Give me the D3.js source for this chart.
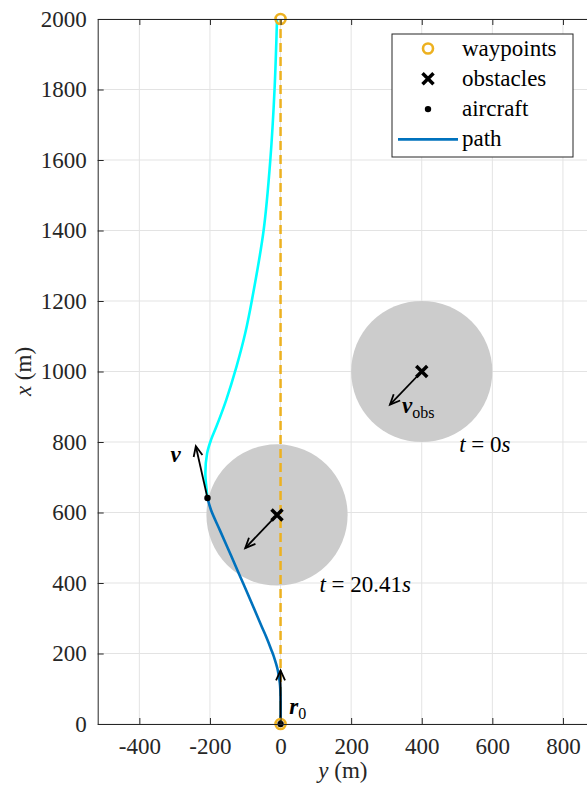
<!DOCTYPE html>
<html>
<head>
<meta charset="utf-8">
<script src="https://cdn.jsdelivr.net/npm/d3@7"></script>
<style>
  body { margin: 0; background: #fff; }
  svg text { font-family: "Liberation Serif", "DejaVu Serif", serif; fill: #262626; }
</style>
</head>
<body>
<div id="container"></div>
<script>
// data: [y (m), x (m)] — horizontal is y, vertical is x
var waypoints = [[0, 0], [0, 2000]];
var obstacles = [[400, 1000], [-10, 593]];
var obstacleRadius = 200;
var obstacleVel = [-90, -94];
var aircraft = [-207, 641];
var aircraftVel = [-33, 147];
var startPos = [0, 0];
var startVel = [0, 152];
var pathFlown = [[0, 0], [0, 80], [-2, 116], [-8, 153], [-19, 191], [-26, 210], [-41, 248], [-55, 280],
                 [-73, 323], [-106, 399], [-139, 475], [-172, 550], [-197, 607], [-207, 641]];
var pathPlanned = [[-207, 641], [-209, 660], [-213, 712], [-208, 768], [-197, 806], [-182, 843],
                   [-154, 919], [-125, 1013], [-100, 1109], [-81, 1203], [-48, 1400], [-29, 1600],
                   [-17, 1800], [-10, 2000]];
var xTicks = [-400, -200, 0, 200, 400, 600, 800];
var yTicks = [0, 200, 400, 600, 800, 1000, 1200, 1400, 1600, 1800, 2000];
var legendItems = ['waypoints', 'obstacles', 'aircraft', 'path'];

(function(){
var width = 587, height = 790;
var pLeft = 97.7, pTop = 19, pRight = 588, pBottom = 724;
var fontSize = 23;

var svg = d3.select('#container')
    .append('svg')
    .attr('width', width)
    .attr('height', height);

var xs = d3.scaleLinear().domain([-518, 871]).range([pLeft, pRight]);
var ys = d3.scaleLinear().domain([0, 2000]).range([pBottom, pTop]);

svg.append('clipPath').attr('id', 'plotclip')
    .append('rect')
    .attr('x', pLeft).attr('y', pTop)
    .attr('width', pRight - pLeft).attr('height', pBottom - pTop);

// grid
var grid = svg.append('g');
xTicks.forEach(function(t){
    grid.append('line')
        .attr('x1', xs(t)).attr('x2', xs(t))
        .attr('y1', pTop).attr('y2', pBottom)
        .attr('stroke', '#e3e3e3').attr('stroke-width', 1);
});
yTicks.forEach(function(t){
    grid.append('line')
        .attr('x1', pLeft).attr('x2', pRight)
        .attr('y1', ys(t)).attr('y2', ys(t))
        .attr('stroke', '#e3e3e3').attr('stroke-width', 1);
});

var plot = svg.append('g').attr('clip-path', 'url(#plotclip)');

// obstacle areas
var k = (xs(1) - xs(0));
obstacles.forEach(function(o){
    plot.append('circle')
        .attr('cx', xs(o[0])).attr('cy', ys(o[1]))
        .attr('r', obstacleRadius * k)
        .attr('fill', '#cccccc');
});

// straight line between waypoints
plot.append('line')
    .attr('x1', xs(waypoints[0][0])).attr('y1', ys(waypoints[0][1]))
    .attr('x2', xs(waypoints[1][0])).attr('y2', ys(waypoints[1][1]))
    .attr('stroke', '#EDB120').attr('stroke-width', 2.5)
    .attr('stroke-dasharray', '9,5');

var line = d3.line()
    .x(function(d){ return xs(d[0]); })
    .y(function(d){ return ys(d[1]); })
    .curve(d3.curveCatmullRom.alpha(0.5));

plot.append('path')
    .attr('d', line(pathPlanned))
    .attr('fill', 'none')
    .attr('stroke', '#00FFFF')
    .attr('stroke-width', 2.6);
plot.append('path')
    .attr('d', line(pathFlown))
    .attr('fill', 'none')
    .attr('stroke', '#0072BD')
    .attr('stroke-width', 2.6);

function arrow(g, p, v){
    var x1 = xs(p[0]), y1 = ys(p[1]);
    var x2 = xs(p[0] + v[0]), y2 = ys(p[1] + v[1]);
    var a = Math.atan2(y2 - y1, x2 - x1);
    var hl = 11, ha = 0.42;
    g.append('line')
        .attr('x1', x1).attr('y1', y1).attr('x2', x2).attr('y2', y2)
        .attr('stroke', '#000').attr('stroke-width', 1.8);
    g.append('path')
        .attr('d', 'M' + (x2 - hl*Math.cos(a - ha)) + ',' + (y2 - hl*Math.sin(a - ha)) +
                   'L' + x2 + ',' + y2 +
                   'L' + (x2 - hl*Math.cos(a + ha)) + ',' + (y2 - hl*Math.sin(a + ha)))
        .attr('fill', 'none')
        .attr('stroke', '#000').attr('stroke-width', 1.8)
        .attr('stroke-linejoin', 'miter');
}

obstacles.forEach(function(o){ arrow(plot, o, obstacleVel); });
arrow(plot, aircraft, aircraftVel);
arrow(plot, startPos, startVel);

function cross(g, cx, cy, s){
    g.append('path')
        .attr('d', 'M' + (cx - s) + ',' + (cy - s) + 'L' + (cx + s) + ',' + (cy + s) +
                   'M' + (cx - s) + ',' + (cy + s) + 'L' + (cx + s) + ',' + (cy - s))
        .attr('stroke', '#000').attr('stroke-width', 3.5).attr('fill', 'none');
}
obstacles.forEach(function(o){ cross(plot, xs(o[0]), ys(o[1]), 5.5); });

// waypoints
waypoints.forEach(function(w){
    svg.append('circle')
        .attr('cx', xs(w[0])).attr('cy', ys(w[1]))
        .attr('r', 5)
        .attr('fill', 'none')
        .attr('stroke', '#EDB120').attr('stroke-width', 2.6);
});
svg.append('circle').attr('cx', xs(startPos[0])).attr('cy', ys(startPos[1])).attr('r', 3.2).attr('fill', '#000');
svg.append('circle').attr('cx', xs(aircraft[0])).attr('cy', ys(aircraft[1])).attr('r', 3.2).attr('fill', '#000');

// annotations
function mathText(px, py, parts){
    var t = svg.append('text')
        .attr('x', px).attr('y', py)
        .attr('font-size', fontSize)
        .style('fill', '#000');
    parts.forEach(function(p){
        var s = t.append('tspan').text(p.s);
        if(p.i) s.attr('font-style', 'italic');
        if(p.b) s.attr('font-weight', 'bold');
        if(p.sub){ s.attr('font-size', 16).attr('dy', 5); }
    });
    return t;
}
mathText(xs(506), ys(772), [{s: 't', i: true}, {s: ' = 0'}, {s: 's', i: true}]);
mathText(xs(110), ys(375), [{s: 't', i: true}, {s: ' = 20.41'}, {s: 's', i: true}]);
mathText(xs(-312), ys(743), [{s: 'v', i: true, b: true}]);
mathText(xs(344), ys(882), [{s: 'v', i: true, b: true}, {s: 'obs', sub: true}]);
mathText(xs(25), ys(28), [{s: 'r', i: true, b: true}, {s: '0', sub: true}]);

// axes
var fmt = function(d){ return String(d); };
var xAxis = svg.append('g')
    .attr('transform', 'translate(0,' + pBottom + ')')
    .call(d3.axisBottom(xs).tickValues(xTicks).tickFormat(fmt).tickSizeInner(-6).tickSizeOuter(0).tickPadding(14));
var xTop = svg.append('g')
    .attr('transform', 'translate(0,' + pTop + ')')
    .call(d3.axisTop(xs).tickValues(xTicks).tickFormat('').tickSizeInner(-6).tickSizeOuter(0));
var yAxis = svg.append('g')
    .attr('transform', 'translate(' + pLeft + ',0)')
    .call(d3.axisLeft(ys).tickValues(yTicks).tickFormat(fmt).tickSizeInner(-6).tickSizeOuter(0).tickPadding(11));
[xAxis, xTop, yAxis].forEach(function(a){
    a.attr('font-family', '"Liberation Serif", serif');
    a.select('.domain').attr('stroke', '#262626').attr('stroke-width', 1);
    a.selectAll('.tick line').attr('stroke', '#262626');
    a.selectAll('.tick text')
        .attr('font-size', fontSize)
        .style('font-family', '"Liberation Serif", serif')
        .style('fill', '#262626');
});
xAxis.selectAll('.tick text').attr('dy', '0.71em');

svg.append('text')
    .attr('x', (pLeft + pRight) / 2).attr('y', 778)
    .attr('text-anchor', 'middle')
    .attr('font-size', fontSize)
    .html('<tspan font-style="italic">y</tspan> (m)');
svg.append('text')
    .attr('transform', 'translate(31,' + ((pTop + pBottom) / 2) + ') rotate(-90)')
    .attr('text-anchor', 'middle')
    .attr('font-size', fontSize)
    .html('<tspan font-style="italic">x</tspan> (m)');

// legend
var lg = svg.append('g').attr('transform', 'translate(392,34)');
lg.append('rect')
    .attr('width', 181).attr('height', 123)
    .attr('fill', '#fff').attr('stroke', '#262626').attr('stroke-width', 1);
legendItems.forEach(function(name, i){
    var cy = 14.5 + i * 30.3;
    if(i == 0){
        lg.append('circle').attr('cx', 36).attr('cy', cy).attr('r', 5)
            .attr('fill', 'none').attr('stroke', '#EDB120').attr('stroke-width', 2.6);
    }else if(i == 1){
        cross(lg, 36, cy, 5.5);
    }else if(i == 2){
        lg.append('circle').attr('cx', 36).attr('cy', cy).attr('r', 3.2).attr('fill', '#000');
    }else{
        lg.append('line').attr('x1', 6).attr('x2', 66).attr('y1', cy).attr('y2', cy)
            .attr('stroke', '#0072BD').attr('stroke-width', 2.6);
    }
    lg.append('text')
        .attr('x', 70).attr('y', cy + 7)
        .attr('font-size', fontSize)
        .style('fill', '#000')
        .text(name);
});
})();
</script>
</body>
</html>
